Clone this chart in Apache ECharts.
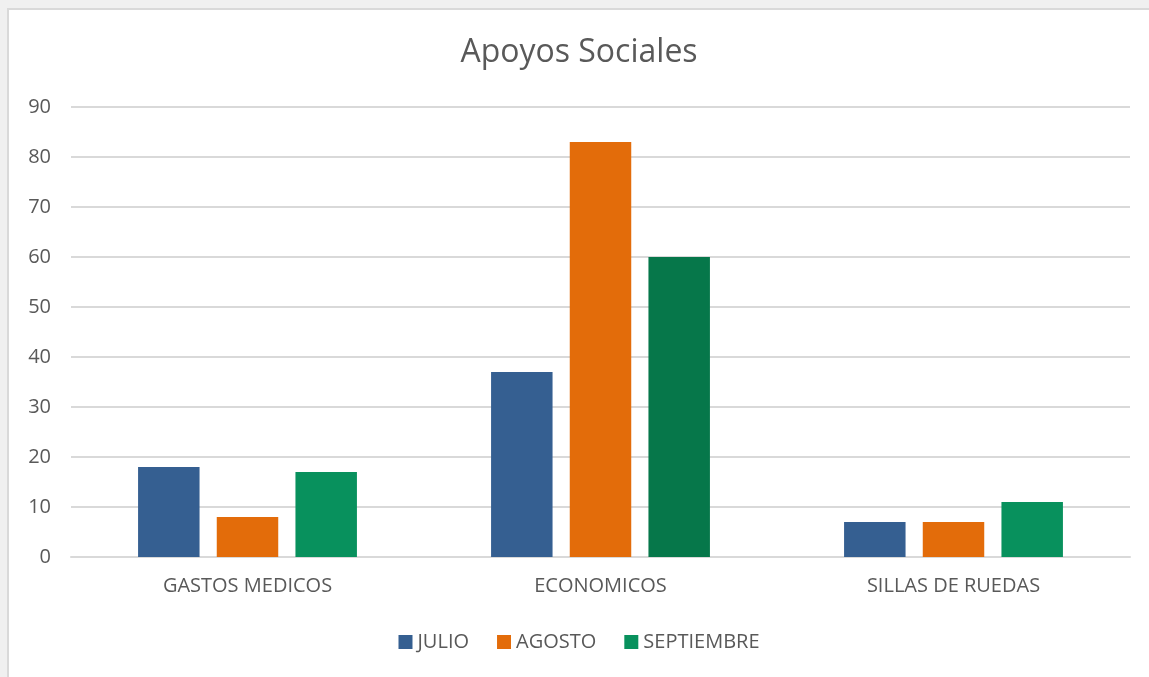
<!DOCTYPE html>
<html>
<head>
<meta charset="utf-8">
<script src="https://cdn.jsdelivr.net/npm/echarts@6/dist/echarts.min.js"></script>
<style>
  html, body { margin: 0; padding: 0; background: #f0f0f0; }
  #frame {
    position: absolute; left: 7px; top: 8px;
    width: 1150px; height: 680px;
    background: #fff; border: 2px solid #d9d9d9;
  }
  #chart { width: 1140px; height: 667px; }
</style>
</head>
<body>
<div id="frame"><div id="chart"></div></div>
<script>
// categorias y valores
const categories = ['GASTOS MEDICOS', 'ECONOMICOS', 'SILLAS DE RUEDAS'];
const julio = [18, 37, 7];
const agosto = [8, 83, 7];
const septiembre = [17, 60, 11];
const yTicks = [0, 10, 20, 30, 40, 50, 60, 70, 80, 90];

const font = '"Open Sans", "Liberation Sans", sans-serif';

let chart = echarts.init(document.getElementById('chart'));
chart.setOption({
  animation: false,
  title: {
    text: 'Apoyos Sociales',
    left: 'center',
    top: 22,
    textStyle: { fontFamily: font, fontSize: 32, fontWeight: 'normal', color: '#595959' }
  },
  legend: {
    bottom: 20,
    left: 'center',
    itemWidth: 14,
    itemHeight: 14,
    itemGap: 28,
    itemTextGap: 6,
    icon: 'rect',
    textStyle: { fontFamily: font, fontSize: 20, color: '#595959' }
  },
  grid: { left: 62, right: 19, top: 97, bottom: 120 },
  xAxis: {
    type: 'category',
    data: categories,
    axisLine: { lineStyle: { color: '#d9d9d9', width: 2 } },
    axisTick: { show: false },
    axisLabel: { fontFamily: font, fontSize: 20, color: '#595959', margin: 19 }
  },
  yAxis: {
    type: 'value',
    min: yTicks[0],
    max: yTicks[yTicks.length - 1],
    interval: 10,
    axisLine: { show: false },
    axisTick: { show: false },
    splitLine: { lineStyle: { color: '#d9d9d9', width: 2 } },
    axisLabel: { fontFamily: font, fontSize: 20, color: '#595959', margin: 20 }
  },
  series: [
    {
      name: 'JULIO', type: 'bar', data: julio,
      barGap: '28%', barCategoryGap: '38%',
      itemStyle: { color: '#355f91' }
    },
    {
      name: 'AGOSTO', type: 'bar', data: agosto,
      itemStyle: { color: '#e36c0a' }
    },
    {
      name: 'SEPTIEMBRE', type: 'bar',
      data: septiembre.map((v, i) => i === 1 ? { value: v, itemStyle: { color: '#06774a' } } : v),
      itemStyle: { color: '#08915d' }
    }
  ]
});
</script>
</body>
</html>
